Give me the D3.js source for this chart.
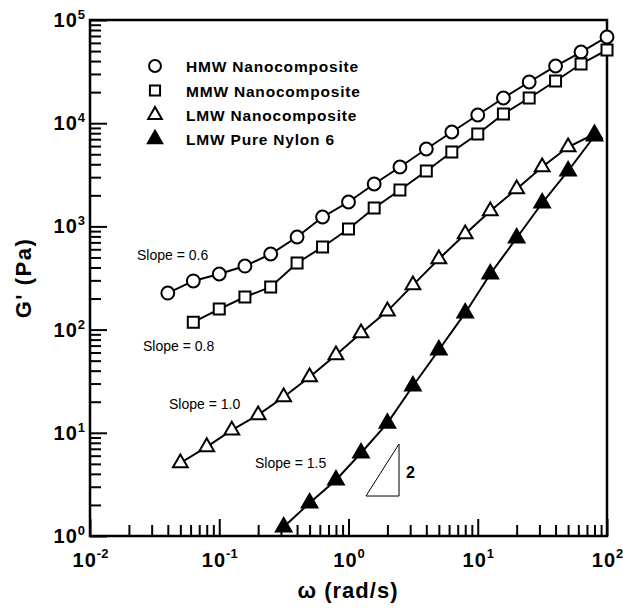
<!DOCTYPE html>
<html>

<head>
    <meta charset="utf-8">
    <title>G' vs omega - nylon 6 nanocomposites</title>
    <script src="https://d3js.org/d3.v7.min.js"></script>
    <style>
        body { margin: 0; background: #fff; }
        text { font-family: "Liberation Sans", Arial, sans-serif; }
    </style>
</head>

<body>
    <svg width="623" height="611"></svg>
    <script>
        // Dati (omega in rad/s, G' in Pa)
        var omegaHMW = [0.04, 0.063, 0.1, 0.158, 0.25, 0.4, 0.63, 1, 1.58, 2.5, 4, 6.3, 10, 15.8, 25, 40, 63, 100];
        var gHMW = [226, 296, 346, 413, 540, 789, 1233, 1723, 2576, 3763, 5623, 8222, 12010, 17550, 25070, 35810, 48950, 68450];

        var omegaMMW = [0.063, 0.1, 0.158, 0.25, 0.4, 0.63, 1, 1.58, 2.5, 4, 6.3, 10, 15.8, 25, 40, 63, 100];
        var gMMW = [118, 158, 207, 259, 442, 631, 944, 1508, 2253, 3443, 5260, 7860, 12280, 17550, 25640, 37480, 51200];

        var omegaLMW = [0.05, 0.08, 0.125, 0.2, 0.315, 0.5, 0.8, 1.25, 2, 3.15, 5, 8, 12.5, 20, 31.5, 50, 80];
        var gLMW = [5.1, 7.3, 10.6, 14.9, 22.2, 34.7, 56.8, 92.7, 151, 270, 483, 844, 1409, 2303, 3763, 5878, 7860];

        var omegaPure = [0.315, 0.5, 0.8, 1.25, 2, 3.15, 5, 8, 12.5, 20, 31.5, 50, 80];
        var gPure = [1.22, 2.09, 3.49, 6.37, 12.4, 28.4, 63.4, 145, 346, 772, 1686, 3443, 7516];

        var seriesNames = ["HMW Nanocomposite", "MMW Nanocomposite", "LMW Nanocomposite", "LMW Pure Nylon 6"];

        // Etichette degli assi
        var xMajor = [0.01, 0.1, 1, 10, 100];
        var xMajorExp = ["-2", "-1", "0", "1", "2"];
        var yMajor = [1, 10, 100, 1000, 10000, 100000];
        var yMajorExp = ["0", "1", "2", "3", "4", "5"];

        var margine = { sinistro: 90, destro: 16, superiore: 20, inferiore: 75 };
        var larghezza = 623, altezza = 611;

        var svg = d3.select("svg");

        var scalaX = d3.scaleLog()
            .domain([1e-2, 1e2])
            .range([margine.sinistro, larghezza - margine.destro]);
        var scalaY = d3.scaleLog()
            .domain([1, 1e5])
            .range([altezza - margine.inferiore, margine.superiore]);

        var basso = altezza - margine.inferiore;

        // tacche minori (tutte quelle del log tranne le decadi)
        var xMinor = scalaX.ticks().filter(function (d) { return xMajor.indexOf(d) < 0; });
        var yMinor = scalaY.ticks().filter(function (d) { return yMajor.indexOf(d) < 0; });

        function stileAsse(g) {
            g.select(".domain").remove();
            g.selectAll("line").attr("stroke", "#000").attr("stroke-width", 2);
            g.attr("font-family", null).attr("font-size", null);
        }

        function potenza(exps, sup) {
            return function (g) {
                g.selectAll("text").each(function (d, i) {
                    var t = d3.select(this);
                    t.text(null)
                        .style("font-weight", "bold")
                        .style("font-size", "20px")
                        .attr("fill", "#000");
                    t.append("tspan").style("letter-spacing", "1px").text("10");
                    t.append("tspan").attr("dy", sup).style("font-size", "13px").text(exps[i]);
                });
            };
        }

        // Asse X
        svg.append("g")
            .attr("transform", "translate(0," + basso + ")")
            .call(d3.axisBottom(scalaX).tickValues(xMinor).tickSize(-11).tickFormat(""))
            .call(stileAsse);
        svg.append("g")
            .attr("transform", "translate(0," + basso + ")")
            .call(d3.axisBottom(scalaX).tickValues(xMajor).tickSize(-17).tickPadding(17))
            .call(stileAsse)
            .call(potenza(xMajorExp, -9));

        // Asse Y
        svg.append("g")
            .attr("transform", "translate(" + margine.sinistro + ",0)")
            .call(d3.axisLeft(scalaY).tickValues(yMinor).tickSize(-11).tickFormat(""))
            .call(stileAsse);
        svg.append("g")
            .attr("transform", "translate(" + margine.sinistro + ",0)")
            .call(d3.axisLeft(scalaY).tickValues(yMajor).tickSize(-17).tickPadding(5))
            .call(stileAsse)
            .call(potenza(yMajorExp, -8));

        // cornice
        svg.append("rect")
            .attr("x", margine.sinistro)
            .attr("y", margine.superiore)
            .attr("width", larghezza - margine.destro - margine.sinistro)
            .attr("height", basso - margine.superiore)
            .attr("fill", "none")
            .attr("stroke", "#000")
            .attr("stroke-width", 2.5);

        // titoli assi
        svg.append("text")
            .attr("x", 348)
            .attr("y", 598)
            .attr("text-anchor", "middle")
            .style("font-weight", "bold")
            .style("font-size", "22px")
            .style("letter-spacing", "1px")
            .text("\u03c9 (rad/s)");

        svg.append("text")
            .attr("transform", "translate(31,278) rotate(-90)")
            .attr("text-anchor", "middle")
            .style("font-weight", "bold")
            .style("font-size", "22px")
            .style("letter-spacing", "1.5px")
            .text("G' (Pa)");

        // serie
        var serie = [
            { x: omegaHMW, y: gHMW, tipo: d3.symbolCircle, size: 130, fill: "#fff" },
            { x: omegaMMW, y: gMMW, tipo: d3.symbolSquare, size: 121, fill: "#fff" },
            { x: omegaLMW, y: gLMW, tipo: d3.symbolTriangle, size: 95, fill: "#fff" },
            { x: omegaPure, y: gPure, tipo: d3.symbolTriangle, size: 105, fill: "#000" }
        ];

        var linea = d3.line()
            .x(function (d) { return scalaX(d[0]); })
            .y(function (d) { return scalaY(d[1]); });

        serie.forEach(function (s) {
            svg.append("path")
                .datum(d3.zip(s.x, s.y))
                .attr("d", linea)
                .attr("fill", "none")
                .attr("stroke", "#000")
                .attr("stroke-width", 2);
        });

        serie.forEach(function (s) {
            svg.selectAll(null)
                .data(d3.zip(s.x, s.y))
                .enter()
                .append("path")
                .attr("d", d3.symbol().type(s.tipo).size(s.size))
                .attr("transform", function (d) { return "translate(" + scalaX(d[0]) + "," + scalaY(d[1]) + ")"; })
                .attr("fill", s.fill)
                .attr("stroke", "#000")
                .attr("stroke-width", 2);
        });

        // legenda
        var legendaY = [72, 96.5, 121, 145];
        serie.forEach(function (s, i) {
            svg.append("path")
                .attr("d", d3.symbol().type(s.tipo).size(s.size * 0.85))
                .attr("transform", "translate(155," + (legendaY[i] - 6) + ")")
                .attr("fill", s.fill)
                .attr("stroke", "#000")
                .attr("stroke-width", 2);
            svg.append("text")
                .attr("x", 186)
                .attr("y", legendaY[i])
                .style("font-weight", "bold")
                .style("font-size", "15.5px")
                .style("letter-spacing", "0.8px")
                .text(seriesNames[i]);
        });

        // etichette pendenza
        var pendenze = [
            { testo: "Slope = 0.6", x: 137, y: 260 },
            { testo: "Slope = 0.8", x: 143, y: 351 },
            { testo: "Slope = 1.0", x: 169, y: 409 },
            { testo: "Slope = 1.5", x: 255, y: 468 }
        ];
        pendenze.forEach(function (p) {
            svg.append("text")
                .attr("x", p.x)
                .attr("y", p.y)
                .style("font-size", "14px")
                .text(p.testo);
        });

        // triangolo pendenza 2 (coordinate nei dati)
        var tri = [[1.365, 2.44], [2.46, 2.44], [2.46, 7.79]];
        svg.append("path")
            .attr("d", "M" + tri.map(function (d) { return scalaX(d[0]) + "," + scalaY(d[1]); }).join("L") + "Z")
            .attr("fill", "none")
            .attr("stroke", "#000")
            .attr("stroke-width", 1);
        svg.append("text")
            .attr("x", 406)
            .attr("y", 478)
            .style("font-weight", "bold")
            .style("font-size", "16px")
            .text("2");
    </script>
</body>

</html>
